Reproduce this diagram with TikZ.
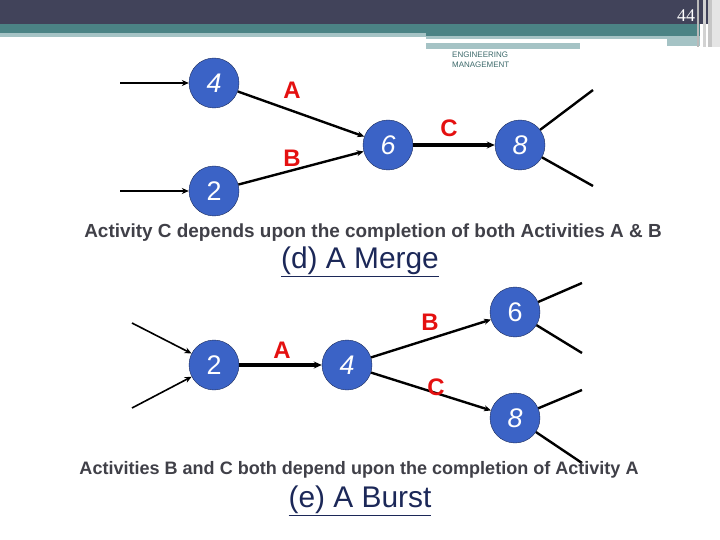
\documentclass[tikz,border=0pt]{standalone}
\usepackage{fontspec}
\setmainfont{Liberation Sans}
\newfontfamily\pagefont{Liberation Serif}
\usetikzlibrary{arrows.meta}
\definecolor{slatebar}{HTML}{41435A}
\definecolor{tealbar}{HTML}{4B8385}
\definecolor{lightteal}{HTML}{A5C3C5}
\definecolor{evblue}{HTML}{3B63C6}
\definecolor{evline}{HTML}{1A2A5A}
\definecolor{actred}{HTML}{E41010}
\definecolor{captxt}{HTML}{404048}
\definecolor{titlenavy}{HTML}{1C2858}
\begin{document}
\begin{tikzpicture}[x=1bp, y=-1bp,
    evnode/.style={circle, draw=evline, fill=evblue, minimum size=50bp,
                   inner sep=0pt, text=white,
                   font=\fontsize{27}{27}\selectfont\itshape},
    actlabel/.style={text=actred, font=\fontsize{24}{24}\selectfont\bfseries},
    feed/.style={line width=1.6bp, -{Stealth[length=7bp,width=6bp]}},
    act/.style={line width=2.4bp, -{Stealth[length=7bp,width=6bp]}},
    mainact/.style={line width=3.6bp, -{Stealth[length=8bp,width=7bp]}},
    stub/.style={line width=2.4bp},
    caption/.style={text=captxt, font=\fontsize{19}{19}\selectfont\bfseries},
    heading/.style={text=titlenavy, font=\fontsize{30}{30}\selectfont}]
\useasboundingbox (0,0) rectangle (720,540);
% slide header
\fill[slatebar] (0,0) rectangle (720,24);
\fill[tealbar] (0,24) rectangle (426,33);
\fill[tealbar] (426,24) rectangle (700,36);
\fill[lightteal] (0,33) rectangle (426,37);
\fill[lightteal] (426,36) rectangle (700,39);
\fill[lightteal] (667,39) rectangle (700,46);
\fill[lightteal] (426,43) rectangle (580,49);
\fill[gray!55] (697,0) rectangle (699,47);
\fill[gray!35] (703,0) rectangle (706,47);
\fill[gray!45] (708,0) rectangle (712,47);
\fill[gray!20] (712,0) rectangle (720,47);
\node[text=white, font=\pagefont\fontsize{18}{18}\selectfont] (pageno) at (686,16) {44};
\node[anchor=north west, inner sep=0pt, align=left, text=tealbar!80!black,
      font=\fontsize{8}{10}\selectfont] (brand) at (452,52)
  {ENGINEERING\\MANAGEMENT};

% (d) merge
\node[evnode] (m4) at (214,83) {4};
\node[evnode, font=\fontsize{27}{27}\selectfont] (m2) at (214,191) {2};
\node[evnode] (m6) at (388,145) {6};
\node[evnode] (m8) at (520,145) {8};
\coordinate (m4in) at (120,83);
\coordinate (m2in) at (120,191);
\coordinate (m8up) at (593,90);
\coordinate (m8dn) at (593,186);
\draw[feed] (m4in) -- (m4);
\draw[feed] (m2in) -- (m2);
\draw[act] (m4) -- (m6);
\draw[act] (m2) -- (m6);
\draw[mainact] (m6) -- (m8);
\draw[stub] (m8) -- (m8up);
\draw[stub] (m8) -- (m8dn);
\node[actlabel] (mA) at (292,90) {A};
\node[actlabel] (mB) at (292,158) {B};
\node[actlabel] (mC) at (449,128) {C};
\node[caption] (mtext) at (373,233)
  {Activity C depends upon the completion of both Activities A \& B};
\node[heading] (mtitle) at (360,262) {\underline{(d) A Merge}};

% (e) burst
\node[evnode, font=\fontsize{27}{27}\selectfont] (b2) at (214,365) {2};
\node[evnode] (b4) at (347,365) {4};
\node[evnode, font=\fontsize{27}{27}\selectfont] (b6) at (515,312) {6};
\node[evnode] (b8) at (515,418) {8};
\coordinate (b2up) at (132,323);
\coordinate (b2dn) at (132,408);
\coordinate (b6up) at (582,283);
\coordinate (b6dn) at (582,353);
\coordinate (b8up) at (582,390);
\coordinate (b8dn) at (582,463);
\draw[feed] (b2up) -- (b2);
\draw[feed] (b2dn) -- (b2);
\draw[mainact] (b2) -- (b4);
\draw[act] (b4) -- (b6);
\draw[act] (b4) -- (b8);
\draw[stub] (b6) -- (b6up);
\draw[stub] (b6) -- (b6dn);
\draw[stub] (b8) -- (b8up);
\draw[stub] (b8) -- (b8dn);
\node[actlabel] (bA) at (282,350) {A};
\node[actlabel] (bB) at (430,322) {B};
\node[actlabel] (bC) at (436,387) {C};
\node[caption, font=\fontsize{18.1}{18.1}\selectfont\bfseries] (btext) at (359,470)
  {Activities B and C both depend upon the completion of Activity A};
\node[heading] (btitle) at (360,501) {\underline{(e) A Burst}};
\end{tikzpicture}
\end{document}
